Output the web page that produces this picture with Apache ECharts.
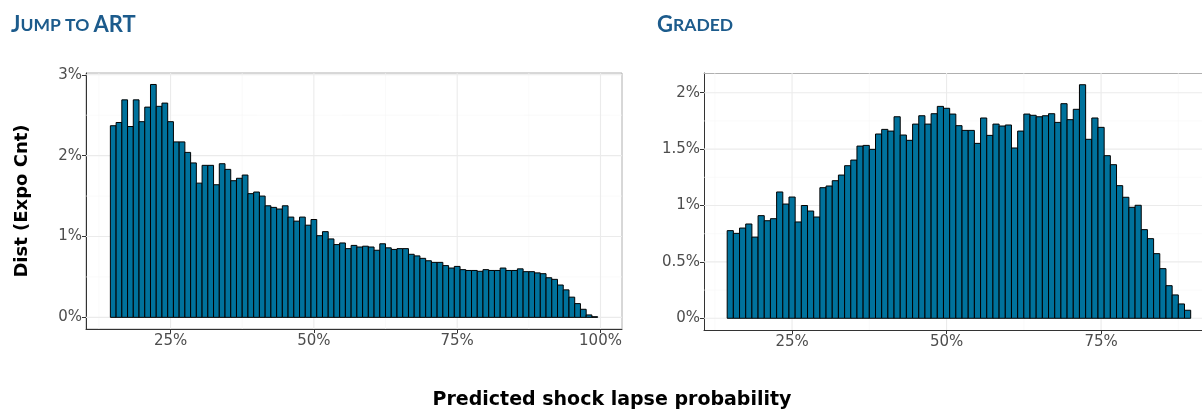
<!DOCTYPE html>
<html>
<head>
<meta charset="utf-8">
<script src="https://cdn.jsdelivr.net/npm/echarts@6/dist/echarts.min.js"></script>
<style>
html,body{margin:0;padding:0;background:#fff;}
#chart{width:1202px;height:410px;}
</style>
</head>
<body>
<div id="chart"></div>
<script>
// ---- data ----
const leftTitle = ['J', 'UMP TO ', 'ART'];
const rightTitle = ['G', 'RADED'];
const yAxisTitle = 'Dist (Expo Cnt)';
const xAxisTitle = 'Predicted shock lapse probability';

const leftFirstBin = 15;   // bin centre (%) of first bar, bins 1% wide
const leftValues = [
  2.37, 2.41, 2.69, 2.36, 2.69, 2.42, 2.60, 2.88, 2.61, 2.65,
  2.42, 2.17, 2.17, 2.04, 1.91, 1.66, 1.88, 1.88, 1.64, 1.90,
  1.83, 1.69, 1.72, 1.76, 1.53, 1.55, 1.50, 1.38, 1.36, 1.34,
  1.38, 1.24, 1.19, 1.24, 1.14, 1.21, 1.01, 1.06, 0.97, 0.90,
  0.92, 0.85, 0.89, 0.87, 0.88, 0.87, 0.83, 0.91, 0.86, 0.84,
  0.85, 0.85, 0.78, 0.76, 0.73, 0.70, 0.68, 0.68, 0.64, 0.61,
  0.63, 0.59, 0.58, 0.58, 0.57, 0.59, 0.58, 0.58, 0.61, 0.58,
  0.58, 0.60, 0.565, 0.565, 0.55, 0.54, 0.49, 0.47, 0.40, 0.34,
  0.25, 0.17, 0.10, 0.03, 0.008
];

const rightFirstBin = 15;
const rightValues = [
  0.777, 0.753, 0.800, 0.836, 0.720, 0.910, 0.865, 0.883, 1.120, 1.013,
  1.075, 0.854, 1.000, 0.951, 0.898, 1.158, 1.173, 1.220, 1.270, 1.353,
  1.403, 1.527, 1.533, 1.498, 1.634, 1.675, 1.660, 1.787, 1.625, 1.578,
  1.722, 1.796, 1.722, 1.814, 1.879, 1.862, 1.811, 1.708, 1.666, 1.666,
  1.551, 1.776, 1.622, 1.722, 1.705, 1.714, 1.510, 1.660, 1.811, 1.800,
  1.787, 1.796, 1.814, 1.737, 1.903, 1.761, 1.853, 2.071, 1.587, 1.776,
  1.693, 1.442, 1.362, 1.176, 1.073, 0.984, 1.002, 0.786, 0.706, 0.573,
  0.440, 0.289, 0.207, 0.127, 0.071
];

const leftXTicks = [25, 50, 75, 100];
const leftXMinor = [12.5, 37.5, 62.5, 87.5];
const leftYTicks = [0, 1, 2, 3];
const leftYMinor = [0.5, 1.5, 2.5];

const rightXTicks = [25, 50, 75];
const rightXMinor = [12.5, 37.5, 62.5, 87.5];
const rightYTicks = [0, 0.5, 1, 1.5, 2];
const rightYMinor = [0.25, 0.75, 1.25, 1.75];

// ---- styles ----
const BAR_FILL = '#00729c';
const TITLE_COLOR = '#1c5b8c';
const LABEL_COLOR = '#4d4d4d';
const MAJOR_GRID = '#ebebeb';
const MINOR_GRID = '#f6f6f6';
const BORDER = '#b0b0b0';
const FONT = 'DejaVu Sans';

function toPairs(first, vals) { return vals.map((v, i) => [first + i, v]); }

function barRender(params, api) {
  const x = api.value(0), y = api.value(1);
  const p0 = api.coord([x - 0.5, 0]);
  const p1 = api.coord([x + 0.5, y]);
  return {
    type: 'rect',
    shape: { x: p0[0], y: p1[1], width: p1[0] - p0[0], height: p0[1] - p1[1] },
    style: { fill: BAR_FILL, stroke: '#000', lineWidth: 1 }
  };
}

function gridSeries(axisIdx, xMajor, xMinor, yMajor, yMinor) {
  const data = [];
  xMinor.forEach(v => data.push(['x', v, 0]));
  yMinor.forEach(v => data.push(['y', v, 0]));
  xMajor.forEach(v => data.push(['x', v, 1]));
  yMajor.forEach(v => data.push(['y', v, 1]));
  return {
    type: 'custom', xAxisIndex: axisIdx, yAxisIndex: axisIdx, z: 1, silent: true,
    clip: true,
    data: data,
    encode: { x: -1, y: -1 },
    renderItem: function (params, api) {
      const kind = api.value(0), v = api.value(1), major = api.value(2);
      const cs = params.coordSys;
      let shape;
      if (kind === 'x') {
        const px = api.coord([v, 0])[0];
        shape = { x1: px, y1: cs.y, x2: px, y2: cs.y + cs.height };
      } else {
        const py = api.coord([20, v])[1];
        shape = { x1: cs.x, y1: py, x2: cs.x + cs.width, y2: py };
      }
      return {
        type: 'line', shape: shape,
        style: { stroke: major ? MAJOR_GRID : MINOR_GRID, lineWidth: major ? 1.1 : 0.6 }
      };
    }
  };
}

function xAxisCfg(gridIdx, min, max, ticks) {
  return {
    type: 'value', gridIndex: gridIdx, min: min, max: max, position: 'bottom',
    axisLine: { show: true, onZero: false, lineStyle: { color: '#333', width: 1 } },
    axisTick: { show: true, customValues: ticks, length: 4, lineStyle: { color: '#333' } },
    axisLabel: { customValues: ticks, formatter: v => v + '%', color: LABEL_COLOR,
      fontFamily: FONT, fontSize: 15, margin: 5 },
    splitLine: { show: false }
  };
}
function topBorderAxis(gridIdx, min, max) {
  return {
    type: 'value', gridIndex: gridIdx, min: min, max: max, position: 'top',
    axisLine: { show: true, onZero: false, lineStyle: { color: BORDER, width: 1 } },
    axisTick: { show: false }, axisLabel: { show: false }, splitLine: { show: false }
  };
}
function yAxisCfg(gridIdx, min, max, ticks) {
  return {
    type: 'value', gridIndex: gridIdx, min: min, max: max,
    axisLine: { show: true, onZero: false, lineStyle: { color: '#333', width: 1 } },
    axisTick: { show: true, customValues: ticks, length: 4, lineStyle: { color: '#333' } },
    axisLabel: { customValues: ticks, formatter: v => v + '%', color: LABEL_COLOR,
      fontFamily: FONT, fontSize: 15, margin: 4 },
    splitLine: { show: false }
  };
}

const chart = echarts.init(document.getElementById('chart'), null, { renderer: 'canvas' });

const titleRich = {
  b: { fontFamily: 'Lato', fontSize: 22, color: TITLE_COLOR },
  s: { fontFamily: 'Lato', fontSize: 17.5, color: TITLE_COLOR }
};

chart.setOption({
  animation: false,
  backgroundColor: '#fff',
  title: [
    { text: '{b|' + leftTitle[0] + '}{s|' + leftTitle[1] + '}{b|' + leftTitle[2] + '}',
      left: 6, top: 9, textStyle: { rich: titleRich } },
    { text: '{b|' + rightTitle[0] + '}{s|' + rightTitle[1] + '}',
      left: 652, top: 9, textStyle: { rich: titleRich } }
  ],
  grid: [
    { left: 86, top: 73, width: 536, height: 256, show: true, borderColor: BORDER, borderWidth: 1, containLabel: false },
    { left: 704, top: 73, width: 498, height: 257, show: false, containLabel: false }
  ],
  xAxis: [
    xAxisCfg(0, 10.25, 103.75, leftXTicks),
    xAxisCfg(1, 10.75, 91.33, rightXTicks),
    topBorderAxis(1, 10.75, 91.33)
  ],
  yAxis: [
    yAxisCfg(0, -0.144, 3.022, leftYTicks),
    yAxisCfg(1, -0.104, 2.175, rightYTicks)
  ],
  graphic: [
    { type: 'text', x: 22, y: 201, rotation: Math.PI / 2,
      style: { text: yAxisTitle, fontFamily: FONT, fontWeight: 'bold', fontSize: 18, fill: '#000',
        align: 'center', verticalAlign: 'middle' } },
    { type: 'text', x: 612, y: 400,
      style: { text: xAxisTitle, fontFamily: FONT, fontWeight: 'bold', fontSize: 19, fill: '#000',
        align: 'center', verticalAlign: 'middle' } }
  ],
  series: [
    gridSeries(0, leftXTicks, leftXMinor, leftYTicks, leftYMinor),
    gridSeries(1, rightXTicks, rightXMinor, rightYTicks, rightYMinor),
    { type: 'custom', xAxisIndex: 0, yAxisIndex: 0, z: 2, renderItem: barRender,
      data: toPairs(leftFirstBin, leftValues), encode: { x: 0, y: 1 } },
    { type: 'custom', xAxisIndex: 1, yAxisIndex: 1, z: 2, renderItem: barRender,
      data: toPairs(rightFirstBin, rightValues), encode: { x: 0, y: 1 } }
  ]
});
</script>
</body>
</html>
